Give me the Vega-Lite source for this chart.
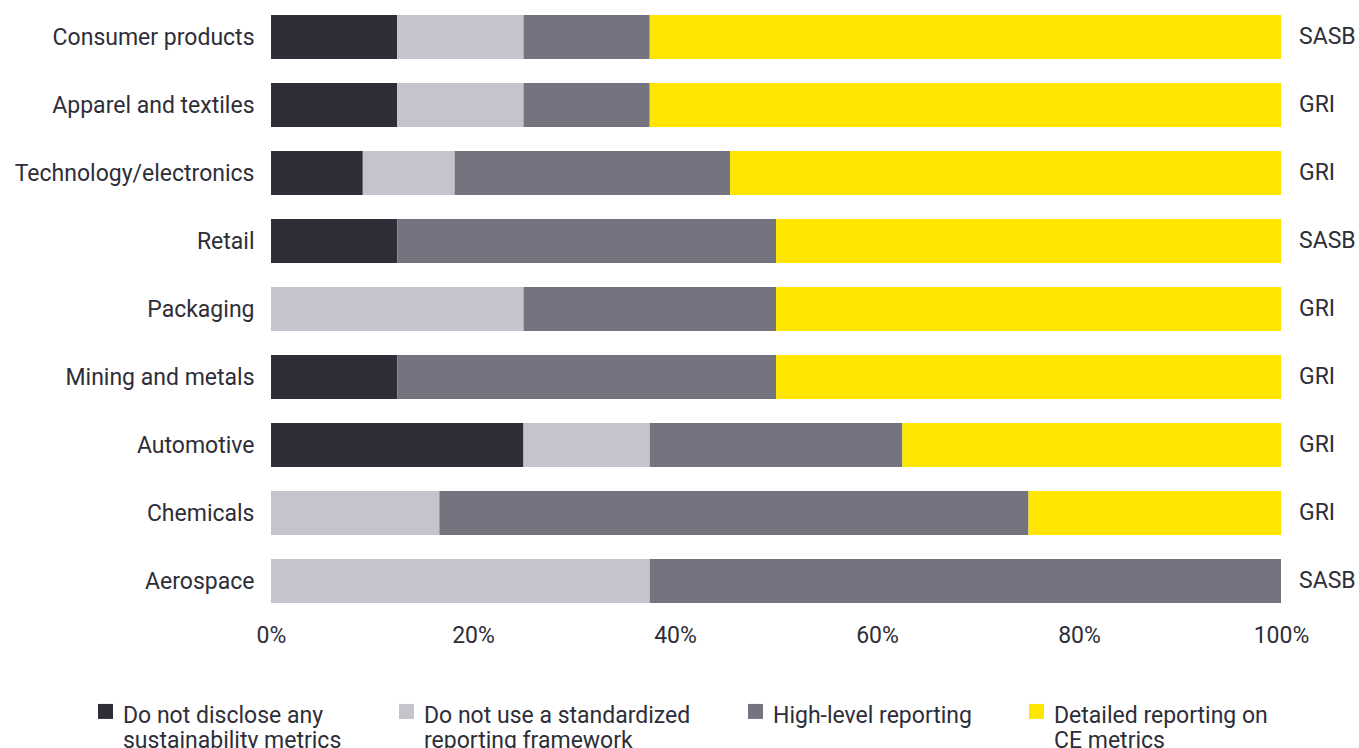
{
  "$schema": "https://vega.github.io/schema/vega-lite/v6.json",
  "autosize": {"type": "none"},
  "width": 1010,
  "height": 612,
  "padding": {"left": 271, "top": 3, "right": 78, "bottom": 133},
  "background": "white",
  "config": {
    "view": {"stroke": null},
    "font": "Roboto",
    "text": {"font": "Roboto"}
  },
  "datasets": {
    "bars": [
      {"industry": "Consumer products", "category": "Do not disclose any sustainability metrics", "ord": 1, "value": 12.5},
      {"industry": "Consumer products", "category": "Do not use a standardized reporting framework", "ord": 2, "value": 12.5},
      {"industry": "Consumer products", "category": "High-level reporting", "ord": 3, "value": 12.5},
      {"industry": "Consumer products", "category": "Detailed reporting on CE metrics", "ord": 4, "value": 62.5},
      {"industry": "Apparel and textiles", "category": "Do not disclose any sustainability metrics", "ord": 1, "value": 12.5},
      {"industry": "Apparel and textiles", "category": "Do not use a standardized reporting framework", "ord": 2, "value": 12.5},
      {"industry": "Apparel and textiles", "category": "High-level reporting", "ord": 3, "value": 12.5},
      {"industry": "Apparel and textiles", "category": "Detailed reporting on CE metrics", "ord": 4, "value": 62.5},
      {"industry": "Technology/electronics", "category": "Do not disclose any sustainability metrics", "ord": 1, "value": 9.09},
      {"industry": "Technology/electronics", "category": "Do not use a standardized reporting framework", "ord": 2, "value": 9.09},
      {"industry": "Technology/electronics", "category": "High-level reporting", "ord": 3, "value": 27.27},
      {"industry": "Technology/electronics", "category": "Detailed reporting on CE metrics", "ord": 4, "value": 54.55},
      {"industry": "Retail", "category": "Do not disclose any sustainability metrics", "ord": 1, "value": 12.5},
      {"industry": "Retail", "category": "Do not use a standardized reporting framework", "ord": 2, "value": 0},
      {"industry": "Retail", "category": "High-level reporting", "ord": 3, "value": 37.5},
      {"industry": "Retail", "category": "Detailed reporting on CE metrics", "ord": 4, "value": 50},
      {"industry": "Packaging", "category": "Do not disclose any sustainability metrics", "ord": 1, "value": 0},
      {"industry": "Packaging", "category": "Do not use a standardized reporting framework", "ord": 2, "value": 25},
      {"industry": "Packaging", "category": "High-level reporting", "ord": 3, "value": 25},
      {"industry": "Packaging", "category": "Detailed reporting on CE metrics", "ord": 4, "value": 50},
      {"industry": "Mining and metals", "category": "Do not disclose any sustainability metrics", "ord": 1, "value": 12.5},
      {"industry": "Mining and metals", "category": "Do not use a standardized reporting framework", "ord": 2, "value": 0},
      {"industry": "Mining and metals", "category": "High-level reporting", "ord": 3, "value": 37.5},
      {"industry": "Mining and metals", "category": "Detailed reporting on CE metrics", "ord": 4, "value": 50},
      {"industry": "Automotive", "category": "Do not disclose any sustainability metrics", "ord": 1, "value": 25},
      {"industry": "Automotive", "category": "Do not use a standardized reporting framework", "ord": 2, "value": 12.5},
      {"industry": "Automotive", "category": "High-level reporting", "ord": 3, "value": 25},
      {"industry": "Automotive", "category": "Detailed reporting on CE metrics", "ord": 4, "value": 37.5},
      {"industry": "Chemicals", "category": "Do not disclose any sustainability metrics", "ord": 1, "value": 0},
      {"industry": "Chemicals", "category": "Do not use a standardized reporting framework", "ord": 2, "value": 16.67},
      {"industry": "Chemicals", "category": "High-level reporting", "ord": 3, "value": 58.33},
      {"industry": "Chemicals", "category": "Detailed reporting on CE metrics", "ord": 4, "value": 25},
      {"industry": "Aerospace", "category": "Do not disclose any sustainability metrics", "ord": 1, "value": 0},
      {"industry": "Aerospace", "category": "Do not use a standardized reporting framework", "ord": 2, "value": 37.5},
      {"industry": "Aerospace", "category": "High-level reporting", "ord": 3, "value": 62.5},
      {"industry": "Aerospace", "category": "Detailed reporting on CE metrics", "ord": 4, "value": 0}
    ],
    "frameworks": [
      {"industry": "Consumer products", "framework": "SASB", "end": 100},
      {"industry": "Apparel and textiles", "framework": "GRI", "end": 100},
      {"industry": "Technology/electronics", "framework": "GRI", "end": 100},
      {"industry": "Retail", "framework": "SASB", "end": 100},
      {"industry": "Packaging", "framework": "GRI", "end": 100},
      {"industry": "Mining and metals", "framework": "GRI", "end": 100},
      {"industry": "Automotive", "framework": "GRI", "end": 100},
      {"industry": "Chemicals", "framework": "GRI", "end": 100},
      {"industry": "Aerospace", "framework": "SASB", "end": 100}
    ]
  },
  "encoding": {
    "y": {
      "field": "industry",
      "type": "nominal",
      "sort": ["Consumer products", "Apparel and textiles", "Technology/electronics", "Retail", "Packaging", "Mining and metals", "Automotive", "Chemicals", "Aerospace"],
      "scale": {"paddingInner": 0.353, "paddingOuter": 0.176},
      "axis": {
        "title": null,
        "domain": false,
        "ticks": false,
        "labelFontSize": 23,
        "labelColor": "#2e2e38",
        "labelPadding": 17,
        "labelLimit": 400,
        "labelFont": "Roboto",
        "labelOffset": 1
      }
    }
  },
  "layer": [
    {
      "data": {"name": "bars"},
      "mark": {"type": "bar"},
      "encoding": {
        "x": {
          "field": "value",
          "type": "quantitative",
          "stack": "zero",
          "scale": {"domain": [0, 100], "nice": false},
          "axis": {
            "title": null,
            "values": [0, 20, 40, 60, 80, 100],
            "labelExpr": "datum.value + '%'",
            "domain": false,
            "ticks": false,
            "grid": false,
            "labelFontSize": 23,
            "labelColor": "#2e2e38",
            "labelPadding": 9,
            "labelFont": "Roboto",
            "labelFlush": false
          }
        },
        "order": {"field": "ord", "type": "quantitative"},
        "color": {
          "field": "category",
          "type": "nominal",
          "scale": {
            "domain": ["Do not disclose any sustainability metrics", "Do not use a standardized reporting framework", "High-level reporting", "Detailed reporting on CE metrics"],
            "range": ["#2e2e38", "#c4c4cd", "#747480", "#ffe600"]
          },
          "legend": {
            "title": null,
            "orient": "none",
            "legendX": -177,
            "legendY": 690,
            "direction": "horizontal",
            "columns": 4,
            "columnPadding": 53,
            "symbolType": "M-1,-0.11H1V1.89H-1Z",
            "symbolSize": 225,
            "symbolStrokeWidth": 0,
            "labelFontSize": 23,
            "labelColor": "#2e2e38",
            "labelFont": "Roboto",
            "labelLimit": 400,
            "labelOffset": 6,
            "labelBaseline": "top",
            "labelExpr": "datum.label == 'Do not disclose any sustainability metrics' ? ['Do not disclose any', 'sustainability metrics'] : datum.label == 'Do not use a standardized reporting framework' ? ['Do not use a standardized', 'reporting framework'] : datum.label == 'Detailed reporting on CE metrics' ? ['Detailed reporting on', 'CE metrics'] : [datum.label, ' ']"
          }
        }
      }
    },
    {
      "data": {"name": "frameworks"},
      "mark": {"type": "text", "align": "left", "baseline": "middle", "dx": 18, "fontSize": 23, "color": "#2e2e38", "font": "Roboto"},
      "encoding": {
        "x": {"field": "end", "type": "quantitative"},
        "text": {"field": "framework", "type": "nominal"}
      }
    }
  ]
}
